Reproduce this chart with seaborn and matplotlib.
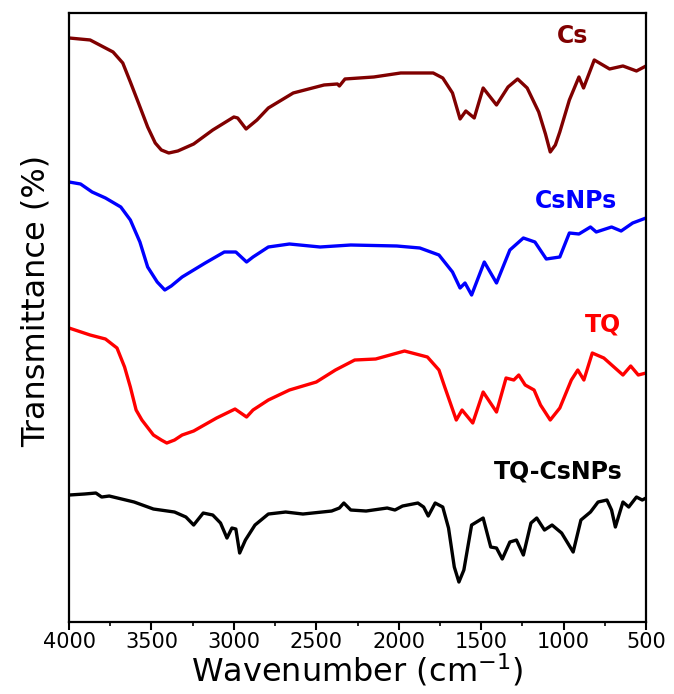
import matplotlib

matplotlib.use("Agg")

import matplotlib.pyplot as plt
import pandas as pd
import seaborn as sns
from matplotlib.ticker import MultipleLocator

# FTIR spectra, offset transmittance (a.u.)
CS_WAVENUMBER = [4000, 3872, 3733, 3674, 3628, 3581, 3523, 3477, 3440, 3395, 3340, 3244, 3128, 3000, 2977,
                 2926, 2860, 2791, 2640, 2453, 2372, 2360, 2326, 2151, 1988, 1791, 1733, 1674, 1628, 1593,
                 1542, 1488, 1407, 1337, 1279, 1221, 1151, 1110, 1081, 1050, 1023, 965, 907, 879, 814,
                 721, 640, 558, 500]
CS_T = [593, 591, 579, 568, 549, 529, 504, 488, 481, 478, 480, 487, 501, 514, 513,
        502, 511, 523, 538, 546, 547, 545, 552, 554, 558, 558, 553, 538, 512, 520,
        513, 543, 526, 544, 552, 543, 519, 497, 479, 486, 499, 531, 554, 543, 571,
        562, 565, 560, 565]

CSNPS_WAVENUMBER = [4000, 3930, 3860, 3779, 3686, 3628, 3570, 3523, 3465, 3419, 3380, 3314, 3174, 3058,
                    2988, 2923, 2884, 2791, 2663, 2477, 2291, 2012, 1872, 1756, 1674, 1628, 1598, 1558,
                    1481, 1407, 1326, 1244, 1174, 1105, 1023, 965, 907, 837, 802, 709, 651, 581, 500]
CSNPS_T = [449, 447, 439, 433, 424, 411, 389, 364, 349, 341, 345, 354, 368, 379,
           379, 369, 374, 384, 387, 384, 386, 385, 383, 376, 359, 343, 348, 336,
           369, 348, 381, 393, 389, 372, 374, 398, 397, 404, 399, 404, 400, 408, 413]

TQ_WAVENUMBER = [4000, 3872, 3779, 3709, 3663, 3628, 3593, 3558, 3488, 3440, 3407, 3360, 3314, 3244, 3105,
                 2993, 2923, 2884, 2791, 2663, 2500, 2384, 2267, 2140, 1965, 1826, 1756, 1721, 1651, 1616,
                 1551, 1488, 1407, 1349, 1302, 1272, 1233, 1179, 1140, 1081, 1023, 953, 914, 877, 826,
                 756, 640, 593, 547, 500]
TQ_T = [303, 296, 292, 283, 264, 244, 221, 211, 196, 191, 188, 191, 196, 200, 213,
        222, 214, 221, 231, 241, 249, 261, 271, 272, 280, 274, 261, 244, 211, 221,
        208, 239, 219, 253, 251, 256, 246, 241, 226, 211, 223, 251, 261, 251, 278,
        273, 256, 265, 256, 258]

TQCS_WAVENUMBER = [4000, 3907, 3837, 3802, 3756, 3605, 3488, 3360, 3291, 3244, 3186, 3128, 3081, 3042, 3012,
                   2988, 2965, 2930, 2872, 2791, 2686, 2581, 2407, 2360, 2333, 2291, 2198, 2070, 2023, 1977,
                   1884, 1849, 1821, 1779, 1733, 1698, 1663, 1635, 1605, 1558, 1488, 1442, 1407, 1372, 1326,
                   1286, 1244, 1198, 1163, 1116, 1070, 1012, 942, 895, 837, 791, 737, 709, 686, 640,
                   605, 558, 523, 500]
TQCS_T = [136, 137, 138, 134, 135, 129, 122, 119, 114, 106, 118, 116, 108, 93, 103,
          102, 78, 91, 106, 117, 119, 117, 120, 123, 128, 121, 120, 123, 121, 125,
          128, 124, 115, 128, 124, 103, 64, 49, 61, 106, 113, 84, 83, 72, 89,
          91, 76, 108, 113, 101, 106, 98, 79, 111, 119, 129, 131, 121, 104, 129,
          124, 134, 131, 133]

SAMPLES = ["Cs", "CsNPs", "TQ", "TQ-CsNPs"]
COLORS = ["#800000", "#0000ff", "#ff0000", "#000000"]
XTICKS = [4000, 3500, 3000, 2500, 2000, 1500, 1000, 500]


def build_frame() -> pd.DataFrame:
    parts = [
        pd.DataFrame({"wavenumber": CS_WAVENUMBER, "transmittance": CS_T, "sample": "Cs"}),
        pd.DataFrame({"wavenumber": CSNPS_WAVENUMBER, "transmittance": CSNPS_T, "sample": "CsNPs"}),
        pd.DataFrame({"wavenumber": TQ_WAVENUMBER, "transmittance": TQ_T, "sample": "TQ"}),
        pd.DataFrame({"wavenumber": TQCS_WAVENUMBER, "transmittance": TQCS_T, "sample": "TQ-CsNPs"}),
    ]
    return pd.concat(parts, ignore_index=True)


def main() -> None:
    sns.set_theme(style="ticks", rc={"text.color": "black", "axes.labelcolor": "black",
                                     "xtick.color": "black", "axes.edgecolor": "black"})
    plt.rcParams["font.family"] = ["DejaVu Sans"]

    spectra = build_frame()

    fig = plt.figure(figsize=(6.74, 6.94), dpi=100)
    ax = fig.add_axes([0.1024, 0.1037, 0.8561, 0.8776])

    sns.lineplot(
        data=spectra, x="wavenumber", y="transmittance", hue="sample",
        hue_order=SAMPLES, palette=COLORS, estimator=None, linewidth=2.4,
        legend=False, ax=ax,
    )

    # sample labels next to each trace
    label_pos = {"Cs": (944, 588), "CsNPs": (926, 423), "TQ": (761, 300), "TQ-CsNPs": (1035, 153)}
    for name, color in zip(SAMPLES, COLORS):
        x, y = label_pos[name]
        ax.text(x, y, name, color=color, fontsize=17, fontweight="bold",
                ha="center", va="baseline")

    ax.set_xlim(4000, 500)
    ax.set_ylim(9, 618)
    ax.set_xticks(XTICKS)
    ax.xaxis.set_minor_locator(MultipleLocator(250))
    ax.set_yticks([])
    ax.tick_params(axis="x", which="major", direction="out", length=6, width=1.5,
                   labelsize=15, pad=1)
    ax.tick_params(axis="x", which="minor", direction="out", length=3, width=1.2)
    for side in ["left", "right", "bottom", "top"]:
        ax.spines[side].set_linewidth(1.6)

    ax.set_xlabel("Wavenumber (cm$^{-1}$)", fontsize=23, labelpad=0)
    ax.set_ylabel("Transmittance (%)", fontsize=23)
    ax.yaxis.set_label_coords(-0.03, 0.527)

    fig.savefig("out.png", dpi=100)
    plt.close(fig)


if __name__ == "__main__":
    main()
